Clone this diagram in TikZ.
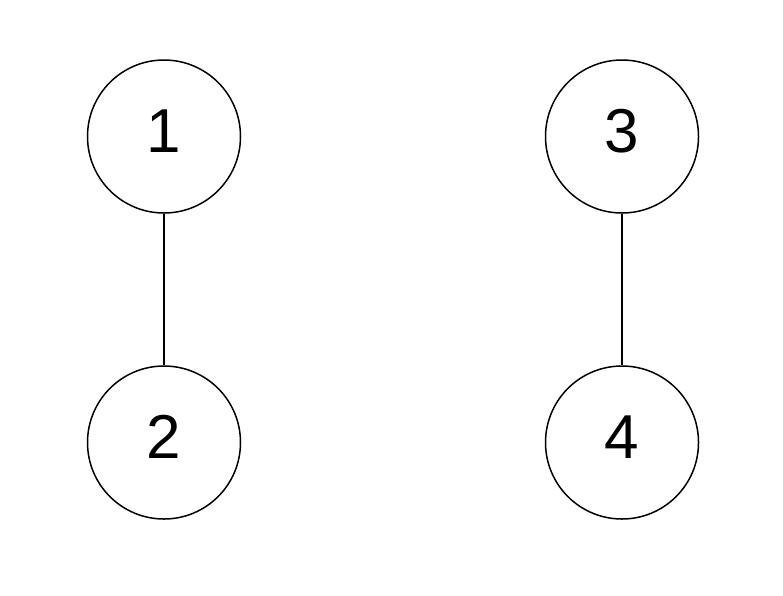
\documentclass[tikz,border=0pt]{standalone}
\usepackage{fontspec}
\setmainfont{Liberation Sans}
\begin{document}
\begin{tikzpicture}[x=1pt,y=-1pt,
  vert/.style={circle,draw,line width=1.5pt,minimum size=153pt,inner sep=0pt,
    text height=44pt,text depth=13pt,font=\fontsize{62}{64}\selectfont},
  edge/.style={line width=2.5pt}]
\useasboundingbox (0,0) rectangle (783,595);
\node[vert] (n1) at (164,136.5) {1};
\node[vert] (n2) at (164,442.5) {2};
\node[vert] (n3) at (622,136.5) {3};
\node[vert] (n4) at (622,442.5) {4};
\draw[edge] (n1) -- (n2);
\draw[edge] (n3) -- (n4);
\end{tikzpicture}
\end{document}
